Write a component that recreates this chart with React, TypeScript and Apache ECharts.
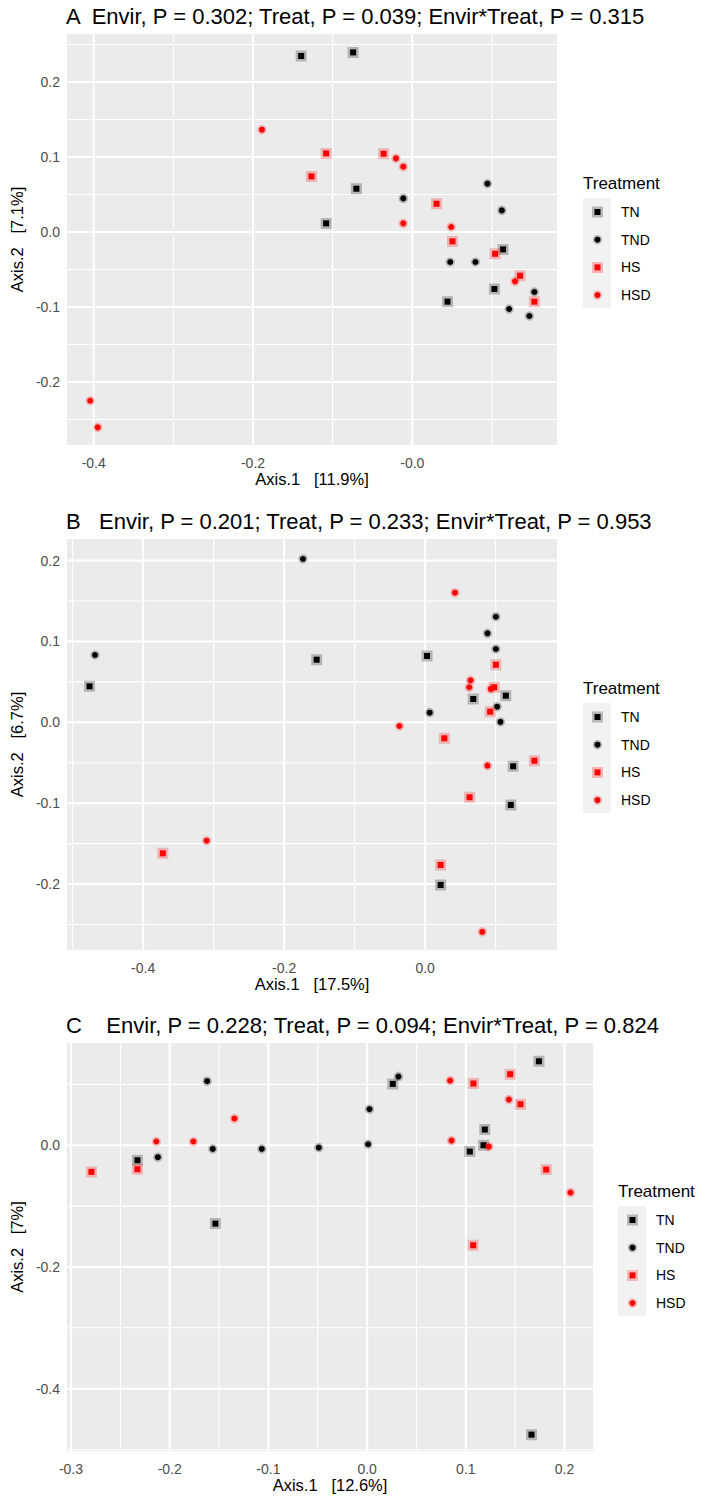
import { useEffect, useRef } from "react";
import * as echarts from "echarts";

const FONT = "'Liberation Sans', Arial, Helvetica, sans-serif";

const treatments = ["TN", "TND", "HS", "HSD"];

// ---- Panel A: PCoA scores [Axis.1, Axis.2] ----
const scoresA_TN = [[-0.1395, 0.2347], [-0.0743, 0.2395], [-0.0702, 0.0577], [-0.1082, 0.0115], [0.114, -0.0232], [0.1031, -0.076], [0.0442, -0.0929]];
const scoresA_TND = [[-0.0113, 0.0448], [0.0944, 0.0644], [0.1124, 0.0288], [0.0476, -0.04], [0.0793, -0.04], [0.1533, -0.08], [0.1216, -0.1027], [0.147, -0.112]];
const scoresA_HS = [[-0.1266, 0.0741], [-0.1082, 0.1048], [-0.036, 0.1044], [0.0305, 0.0377], [0.0505, -0.0125], [0.104, -0.029], [0.1353, -0.0583], [0.1533, -0.0929]];
const scoresA_HSD = [[-0.1888, 0.1364], [-0.4044, -0.225], [-0.395, -0.2605], [-0.0205, 0.0982], [-0.0113, 0.0871], [-0.0113, 0.0115], [0.0489, 0.0067], [0.129, -0.0658]];

// ---- Panel B ----
const scoresB_TN = [[-0.476, 0.0445], [-0.1539, 0.0774], [0.0027, 0.082], [0.1144, 0.0329], [0.0682, 0.0288], [0.1248, -0.0544], [0.1215, -0.1022], [0.0219, -0.2011]];
const scoresB_TND = [[-0.1733, 0.2019], [-0.4683, 0.0832], [0.1003, 0.1305], [0.0884, 0.11], [0.1003, 0.0906], [0.1021, 0.0193], [0.0064, 0.0119], [0.1068, 0.0004]];
const scoresB_HS = [[-0.3721, -0.162], [0.1003, 0.0712], [0.0979, 0.0433], [0.0922, 0.0131], [0.0272, -0.0198], [0.1549, -0.0475], [0.063, -0.0927], [0.0219, -0.1764]];
const scoresB_HSD = [[-0.31, -0.1464], [0.0423, 0.1602], [0.0644, 0.0519], [0.0625, 0.0433], [0.0932, 0.0412], [-0.0365, -0.0046], [0.0884, -0.0536], [0.081, -0.259]];

// ---- Panel C ----
const scoresC_TN = [[-0.2327, -0.0247], [-0.1537, -0.1288], [0.174, 0.138], [0.026, 0.1008], [0.1192, 0.0258], [0.1179, 0.0], [0.104, -0.0104], [0.1665, -0.4756]];
const scoresC_TND = [[-0.1621, 0.1052], [-0.1564, -0.006], [-0.1067, -0.006], [-0.049, -0.0038], [-0.212, -0.0197], [0.0317, 0.1129], [0.0024, 0.0592], [0.001, 0.0016]];
const scoresC_HS = [[-0.2327, -0.0395], [-0.2793, -0.0438], [0.1077, 0.1014], [0.1449, 0.1167], [0.1553, 0.0674], [0.1814, -0.04], [0.1074, -0.1644]];
const scoresC_HSD = [[-0.1344, 0.0439], [-0.2135, 0.0061], [-0.176, 0.0061], [0.0841, 0.1063], [0.1436, 0.0751], [0.0855, 0.0077], [0.1233, -0.0022], [0.206, -0.0778]];

// ---- Titles and axis names ----
const titleA = "A  Envir, P = 0.302; Treat, P = 0.039; Envir*Treat, P = 0.315";
const titleB = "B   Envir, P = 0.201; Treat, P = 0.233; Envir*Treat, P = 0.953";
const titleC = "C    Envir, P = 0.228; Treat, P = 0.094; Envir*Treat, P = 0.824";
const xNameA = "Axis.1   [11.9%]";
const yNameA = "Axis.2   [7.1%]";
const xNameB = "Axis.1   [17.5%]";
const yNameB = "Axis.2   [6.7%]";
const xNameC = "Axis.1   [12.6%]";
const yNameC = "Axis.2   [7%]";

// ---- Tick values, labels and minor grid positions ----
const xTicksA = [-0.4, -0.2, 0];
const xLabelsA = ["-0.4", "-0.2", "-0.0"];
const xMinorA = [-0.3, -0.1, 0.1];
const yTicksA = [-0.2, -0.1, 0, 0.1, 0.2];
const yLabelsA = ["-0.2", "-0.1", "0.0", "0.1", "0.2"];
const yMinorA = [-0.25, -0.15, -0.05, 0.05, 0.15, 0.25];

const xTicksB = [-0.4, -0.2, 0];
const xLabelsB = ["-0.4", "-0.2", "0.0"];
const xMinorB = [-0.5, -0.3, -0.1, 0.1];
const yTicksB = [-0.2, -0.1, 0, 0.1, 0.2];
const yLabelsB = ["-0.2", "-0.1", "0.0", "0.1", "0.2"];
const yMinorB = [-0.25, -0.15, -0.05, 0.05, 0.15];

const xTicksC = [-0.3, -0.2, -0.1, 0, 0.1, 0.2];
const xLabelsC = ["-0.3", "-0.2", "-0.1", "0.0", "0.1", "0.2"];
const xMinorC = [-0.25, -0.15, -0.05, 0.05, 0.15];
const yTicksC = [-0.4, -0.2, 0];
const yLabelsC = ["-0.4", "-0.2", "0.0"];
const yMinorC = [-0.5, -0.3, -0.1, 0.1];

// marker look per treatment
const markerStyle: Record<string, { symbol: string; fill: string; halo: string }> = {
  TN: { symbol: "rect", fill: "#000000", halo: "rgba(0,0,0,0.24)" },
  TND: { symbol: "circle", fill: "#000000", halo: "rgba(0,0,0,0.24)" },
  HS: { symbol: "rect", fill: "#ff0000", halo: "rgba(255,0,0,0.24)" },
  HSD: { symbol: "circle", fill: "#ff0000", halo: "rgba(255,0,0,0.24)" },
};

const GRID_COLOR = "#ffffff";
const MAJOR_W = 2;
const MINOR_W = 1.1;

type Panel = {
  title: string;
  xName: string;
  yName: string;
  xRange: [number, number];
  yRange: [number, number];
  xTicks: number[];
  xLabels: string[];
  xMinor: number[];
  yTicks: number[];
  yLabels: string[];
  yMinor: number[];
  scores: number[][][];
  grid: { left: number; top: number; width: number; height: number };
  legendLeft: number;
  legendTitleY: number;
};

const panels: Panel[] = [
  {
    title: titleA, xName: xNameA, yName: yNameA,
    xRange: [-0.4335, 0.1817], yRange: [-0.284, 0.264],
    xTicks: xTicksA, xLabels: xLabelsA, xMinor: xMinorA,
    yTicks: yTicksA, yLabels: yLabelsA, yMinor: yMinorA,
    scores: [scoresA_TN, scoresA_TND, scoresA_HS, scoresA_HSD],
    grid: { left: 66, top: 34, width: 491, height: 411 },
    legendLeft: 583, legendTitleY: 183,
  },
  {
    title: titleB, xName: xNameB, yName: yNameB,
    xRange: [-0.508, 0.187], yRange: [-0.2815, 0.2266],
    xTicks: xTicksB, xLabels: xLabelsB, xMinor: xMinorB,
    yTicks: yTicksB, yLabels: yLabelsB, yMinor: yMinorB,
    scores: [scoresB_TN, scoresB_TND, scoresB_HS, scoresB_HSD],
    grid: { left: 66, top: 539, width: 491, height: 411 },
    legendLeft: 583, legendTitleY: 688,
  },
  {
    title: titleC, xName: xNameC, yName: yNameC,
    xRange: [-0.304, 0.2288], yRange: [-0.5025, 0.168],
    xTicks: xTicksC, xLabels: xLabelsC, xMinor: xMinorC,
    yTicks: yTicksC, yLabels: yLabelsC, yMinor: yMinorC,
    scores: [scoresC_TN, scoresC_TND, scoresC_HS, scoresC_HSD],
    grid: { left: 66, top: 1043, width: 527, height: 408 },
    legendLeft: 618, legendTitleY: 1191,
  },
];

function labelFor(ticks: number[], labels: string[]) {
  return (v: number) => {
    const i = ticks.findIndex((t) => Math.abs(t - v) < 1e-9);
    return i >= 0 ? labels[i] : "";
  };
}

function buildOption() {
  const grids: any[] = [];
  const xAxes: any[] = [];
  const yAxes: any[] = [];
  const series: any[] = [];
  const graphics: any[] = [];

  panels.forEach((p, k) => {
    grids.push({
      left: p.grid.left,
      top: p.grid.top,
      width: p.grid.width,
      height: p.grid.height,
      show: true,
      backgroundColor: "#ebebeb",
      borderWidth: 0,
      containLabel: false,
    });

    xAxes.push({
      type: "value",
      gridIndex: k,
      min: p.xRange[0],
      max: p.xRange[1],
      axisLine: { show: false },
      axisTick: { show: true, customValues: p.xTicks, length: 4, lineStyle: { color: "#333333", width: 1 } },
      axisLabel: {
        customValues: p.xTicks,
        formatter: labelFor(p.xTicks, p.xLabels),
        margin: 11,
        color: "#4d4d4d",
        fontSize: 14,
        fontFamily: FONT,
      },
      splitLine: { show: false },
      name: p.xName,
      nameLocation: "middle",
      nameGap: 22,
      nameTextStyle: { color: "#000000", fontSize: 16.5, fontFamily: FONT },
    });

    yAxes.push({
      type: "value",
      gridIndex: k,
      min: p.yRange[0],
      max: p.yRange[1],
      axisLine: { show: false },
      axisTick: { show: true, customValues: p.yTicks, length: 4, lineStyle: { color: "#333333", width: 1 } },
      axisLabel: {
        customValues: p.yTicks,
        formatter: labelFor(p.yTicks, p.yLabels),
        margin: 7,
        color: "#4d4d4d",
        fontSize: 14,
        fontFamily: FONT,
      },
      splitLine: { show: false },
      name: p.yName,
      nameLocation: "middle",
      nameGap: 36,
      nameTextStyle: { color: "#000000", fontSize: 16.5, fontFamily: FONT },
    });

    // panel grid lines: one line series per grid line, spanning the axis extent
    const gridLine = (pts: number[][], w: number) => ({
      type: "line",
      xAxisIndex: k,
      yAxisIndex: k,
      silent: true,
      z: 1,
      symbol: "none",
      lineStyle: { color: GRID_COLOR, width: w, type: "solid" },
      data: pts,
      clip: false,
    });
    p.xMinor.forEach((v) => series.push(gridLine([[v, p.yRange[0]], [v, p.yRange[1]]], MINOR_W)));
    p.yMinor.forEach((v) => series.push(gridLine([[p.xRange[0], v], [p.xRange[1], v]], MINOR_W)));
    p.xTicks.forEach((v) => series.push(gridLine([[v, p.yRange[0]], [v, p.yRange[1]]], MAJOR_W)));
    p.yTicks.forEach((v) => series.push(gridLine([[p.xRange[0], v], [p.xRange[1], v]], MAJOR_W)));

    treatments.forEach((t, i) => {
      const m = markerStyle[t];
      const isRect = m.symbol === "rect";
      series.push({
        type: "scatter",
        name: t,
        xAxisIndex: k,
        yAxisIndex: k,
        z: 3,
        silent: true,
        symbol: m.symbol,
        symbolSize: 6,
        itemStyle: {
          color: m.fill,
          borderColor: m.halo,
          borderWidth: isRect ? 5 : 3.5,
          opacity: 1,
        },
        data: p.scores[i],
      });
    });

    // panel title
    graphics.push({
      type: "text",
      x: p.grid.left,
      y: p.grid.top - 18,
      style: {
        text: p.title,
        fill: "#000000",
        font: `22px ${FONT}`,
        verticalAlign: "middle",
        align: "left",
      },
    });

    // legend
    const lx = p.legendLeft;
    const ly = p.legendTitleY;
    graphics.push({
      type: "text",
      x: lx,
      y: ly,
      style: { text: "Treatment", fill: "#000000", font: `17px ${FONT}`, verticalAlign: "middle", align: "left" },
    });
    graphics.push({
      type: "rect",
      shape: { x: lx, y: ly + 15, width: 28, height: 110 },
      style: { fill: "#f2f2f2" },
    });
    treatments.forEach((t, i) => {
      const m = markerStyle[t];
      const cx = lx + 14.5;
      const cy = ly + 29 + i * 27.7;
      if (m.symbol === "rect") {
        graphics.push({
          type: "rect",
          shape: { x: cx - 3, y: cy - 3, width: 6, height: 6 },
          style: { fill: m.fill, stroke: m.halo, lineWidth: 5 },
        });
      } else {
        graphics.push({
          type: "circle",
          shape: { cx, cy, r: 3 },
          style: { fill: m.fill, stroke: m.halo, lineWidth: 3.5 },
        });
      }
      graphics.push({
        type: "text",
        x: lx + 38,
        y: cy,
        style: { text: t, fill: "#000000", font: `14px ${FONT}`, verticalAlign: "middle", align: "left" },
      });
    });
  });

  return {
    animation: false,
    backgroundColor: "#ffffff",
    grid: grids,
    xAxis: xAxes,
    yAxis: yAxes,
    series,
    graphic: { elements: graphics },
  };
}

export default function App() {
  const ref = useRef<HTMLDivElement>(null);

  useEffect(() => {
    document.body.style.margin = "0";
    if (!ref.current) return;
    const chart = echarts.init(ref.current, undefined, { renderer: "svg" });
    chart.setOption(buildOption() as any);
    return () => {
      chart.dispose();
    };
  }, []);

  return (
    <div
      ref={ref}
      style={{ position: "absolute", left: 0, top: 0, width: 705, height: 1502, background: "#ffffff" }}
    />
  );
}
